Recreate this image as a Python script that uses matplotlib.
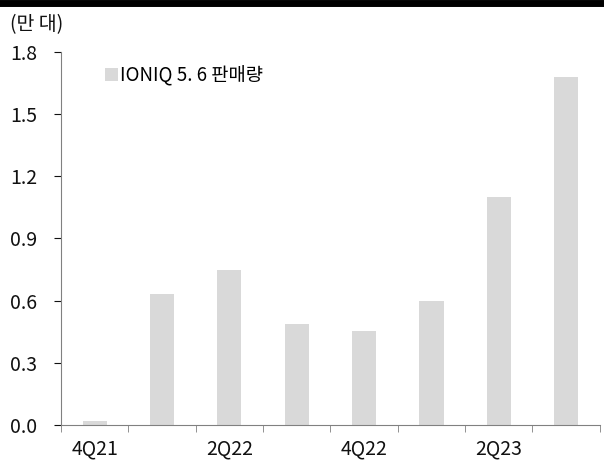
import numpy as np
import matplotlib.pyplot as plt
from matplotlib.lines import Line2D

plt.rcParams['font.family'] = ['Noto Sans CJK KR', 'DejaVu Sans']

quarters = ['4Q21', '1Q22', '2Q22', '3Q22', '4Q22', '1Q23', '2Q23', '3Q23']
sales = [0.02, 0.63, 0.75, 0.485, 0.455, 0.60, 1.10, 1.68]
tick_labels = ['4Q21', '', '2Q22', '', '4Q22', '', '2Q23', '']

fig = plt.figure(figsize=(6.04, 4.68), dpi=100)
ax = fig.add_axes([0.101, 0.092, 0.892, 0.797])

x = np.arange(len(quarters))
ax.bar(x, sales, width=0.36, color='#d9d9d9', label='IONIQ 5. 6 판매량', zorder=2)

ax.set_xlim(-0.5, len(quarters) - 0.5)
ax.set_ylim(0, 1.8)
ax.set_yticks(np.arange(0, 1.81, 0.3))
ax.set_yticklabels([f'{v:.1f}' for v in np.arange(0, 1.81, 0.3)])
ax.set_xticks(x)
ax.set_xticklabels(tick_labels)
ax.set_xticks(np.arange(-0.5, len(quarters)), minor=True)
ax.tick_params(axis='x', which='major', length=0, pad=10)
ax.tick_params(axis='x', which='minor', length=5, color='#808080', direction='out')
ax.tick_params(axis='y', length=5, color='#808080', direction='out', pad=12)
ax.tick_params(labelsize=14, colors='#111111')

for s in ['top', 'right']:
    ax.spines[s].set_visible(False)
for s in ['left', 'bottom']:
    ax.spines[s].set_color('#808080')

ax.legend(loc='upper left', bbox_to_anchor=(0.05, 1.01), frameon=False, fontsize=13.5,
          handlelength=0.7, handleheight=0.7, handletextpad=0.1)

fig.text(0.017, 0.948, '(만 대)', fontsize=14, color='#111111', va='center')
fig.add_artist(Line2D([0, 1], [0.994, 0.994], color='black', lw=5, transform=fig.transFigure))

fig.savefig('out.png', dpi=100)
